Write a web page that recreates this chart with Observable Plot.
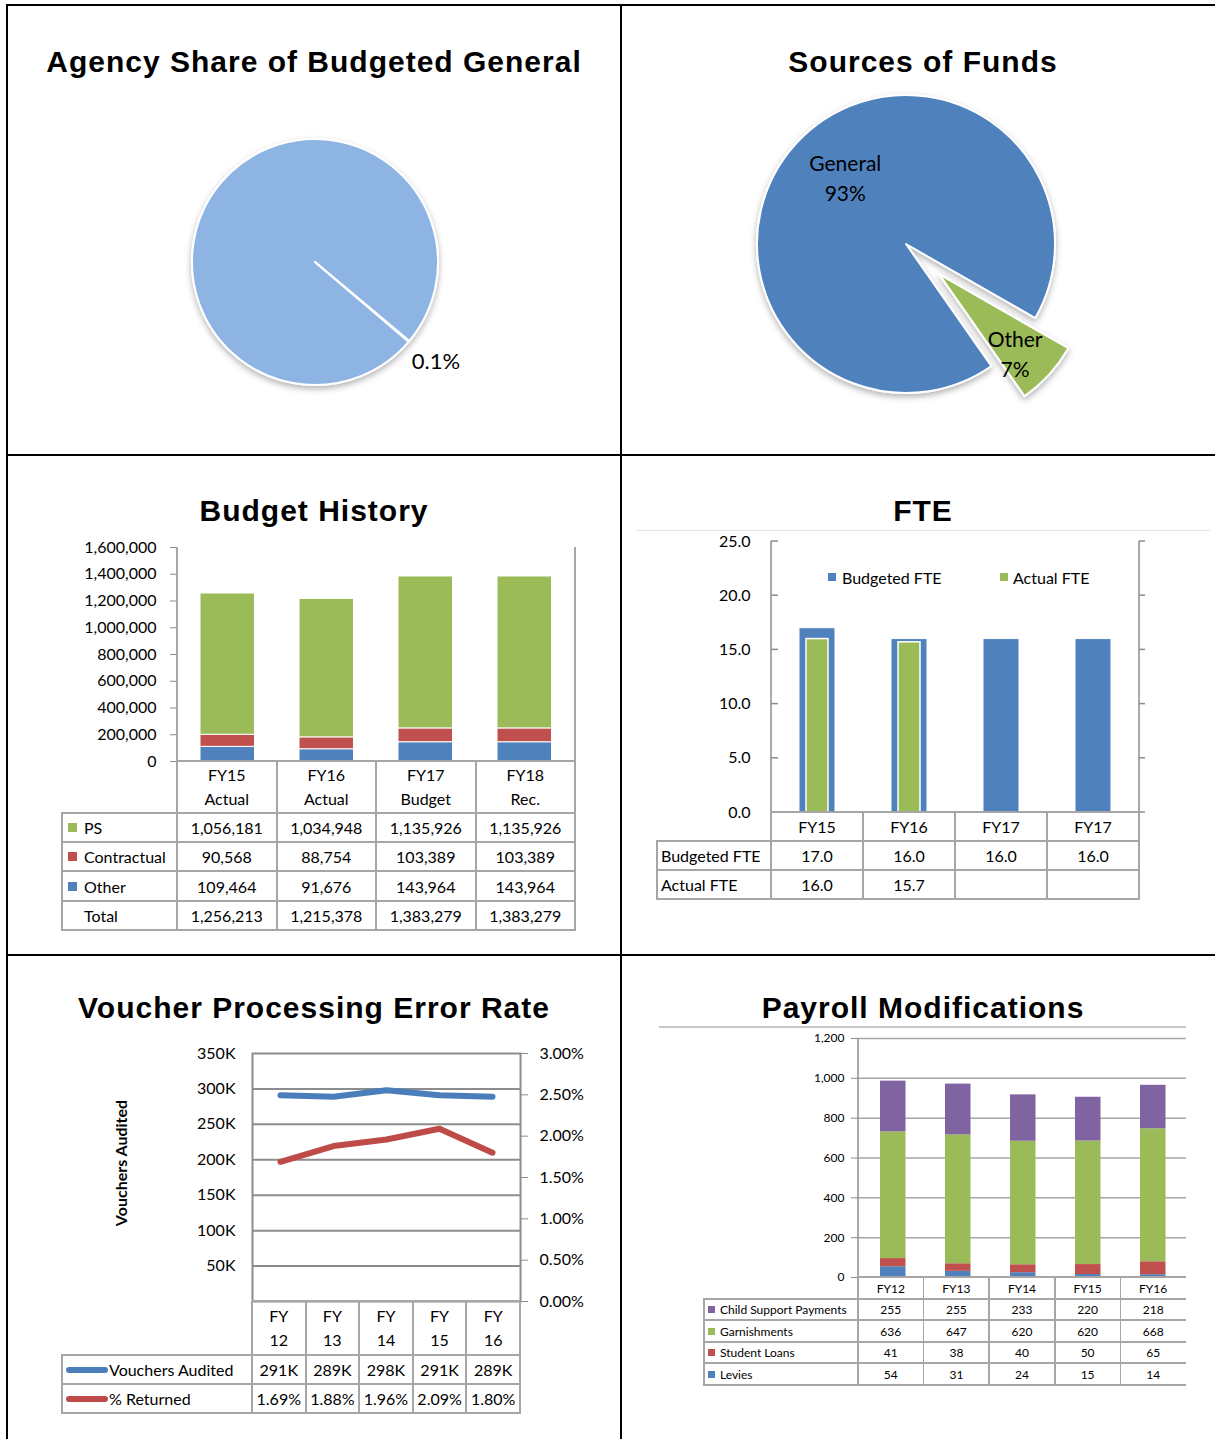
<!DOCTYPE html>
<html><head><meta charset="utf-8">
<script src="https://cdn.jsdelivr.net/npm/d3@7"></script>
<script src="https://cdn.jsdelivr.net/npm/@observablehq/plot@0.6"></script>
<style>
html,body{margin:0;padding:0;background:#fff;}
#root{position:relative;width:1215px;height:1439px;overflow:hidden;font-family:Lato,"Open Sans",sans-serif;color:#000;}
#root > *{position:absolute;}
.title{font-family:"Liberation Sans",Arial,sans-serif;font-weight:bold;font-size:30px;line-height:30px;letter-spacing:1px;white-space:nowrap;transform:translateX(-50%);}
.cell{display:flex;align-items:center;white-space:pre;box-sizing:border-box;}
</style></head><body><div id="root"></div><script>
// ---------------- DATA ----------------
// Agency share pie
const shareLabels = ["Rest of General Fund", "Agency"];
const shareValues = [99.9, 0.1];
// Sources of funds pie
const fundLabels = ["General", "Other"];
const fundValues = [93, 7];
// Budget history
const budgetYears = ["FY15\nActual", "FY16\nActual", "FY17\nBudget", "FY18\nRec."];
const budgetCategories = ["PS", "Contractual", "Other"];
const budgetPS = [1056181, 1034948, 1135926, 1135926];
const budgetContractual = [90568, 88754, 103389, 103389];
const budgetOther = [109464, 91676, 143964, 143964];
const budgetTotal = [1256213, 1215378, 1383279, 1383279];
const budgetTicks = [0, 200000, 400000, 600000, 800000, 1000000, 1200000, 1400000, 1600000];
// FTE
const fteYears = ["FY15", "FY16", "FY17", "FY17"];
const fteBudgeted = [17.0, 16.0, 16.0, 16.0];
const fteActual = [16.0, 15.7, null, null];
const fteTicks = [0, 5, 10, 15, 20, 25];
// Voucher processing
const voucherYears = ["FY\n12", "FY\n13", "FY\n14", "FY\n15", "FY\n16"];
const vouchersAudited = [291000, 289000, 298000, 291000, 289000];
const pctReturned = [1.69, 1.88, 1.96, 2.09, 1.80];
const voucherTicks = [50000, 100000, 150000, 200000, 250000, 300000, 350000];
const pctTicks = [0, 0.5, 1.0, 1.5, 2.0, 2.5, 3.0];
// Payroll modifications
const payrollYears = ["FY12", "FY13", "FY14", "FY15", "FY16"];
const payrollCategories = ["Child Support Payments", "Garnishments", "Student Loans", "Levies"];
const childSupport = [255, 255, 233, 220, 218];
const garnishments = [636, 647, 620, 620, 668];
const studentLoans = [41, 38, 40, 50, 65];
const levies = [54, 31, 24, 15, 14];
const payrollTicks = [0, 200, 400, 600, 800, 1000, 1200];

// ---------------- STYLE ----------------
const BLUE = "#4F81BD", RED = "#C0504D", GREEN = "#9BBB59", PURPLE = "#8064A2", LIGHTBLUE = "#8DB4E2";
const GRID = "#a6a6a6", AXIS = "#8c8c8c";
const FONT = "Lato, 'Open Sans', sans-serif";

// ---------------- HELPERS ----------------
const root = document.getElementById("root");
function add(el, x, y) { el.style.left = x + "px"; el.style.top = y + "px"; root.appendChild(el); return el; }
function rect(x, y, w, h, color) {
  const d = document.createElement("div");
  d.style.width = w + "px"; d.style.height = h + "px"; d.style.background = color;
  return add(d, x, y);
}
function hline(x1, x2, y, color, w) { return rect(x1, y - w / 2, x2 - x1, w, color); }
function vline(x, y1, y2, color, w) { return rect(x - w / 2, y1, w, y2 - y1, color); }
function box(str, x, y, w, h, {align = "center", size = 16, lh = null, bold = false, pad = 0} = {}) {
  const d = document.createElement("div"); d.className = "cell";
  d.style.width = w + "px"; d.style.height = h + "px"; d.style.fontSize = size + "px";
  d.style.justifyContent = align === "left" ? "flex-start" : "center";
  d.style.textAlign = align; if (lh) d.style.lineHeight = lh + "px";
  if (bold) d.style.fontWeight = "bold";
  d.style.paddingLeft = pad + "px";
  d.textContent = str; return add(d, x, y);
}
function title(str, cx, top) { const d = document.createElement("div"); d.className = "title"; d.textContent = str; return add(d, cx, top); }

function dataTable(t) {
  const {labelLeft, xs, headerTop, ys, header, rows, size = 16, lh = null, labelPad = 4, swatch = null, rightBorder = true, color = GRID, w = 2} = t;
  const right = xs[xs.length - 1], bottom = ys[ys.length - 1];
  hline(xs[0], right, headerTop, color, w);
  ys.forEach(y => hline(labelLeft - w / 2, right + (rightBorder ? w / 2 : 0), y, color, w));
  vline(labelLeft, ys[0], bottom + w / 2, color, w);
  xs.forEach((x, j) => { if (j === xs.length - 1 && !rightBorder) return; vline(x, headerTop, bottom + w / 2, color, w); });
  header.forEach((h, j) => box(h, xs[j], headerTop, xs[j + 1] - xs[j], ys[0] - headerTop, {size, lh}));
  rows.forEach((r, i) => {
    const top = ys[i], h = ys[i + 1] - top;
    if (swatch && r.color) {
      if (swatch.type === "square") rect(labelLeft + swatch.dx, top + h / 2 - swatch.s / 2, swatch.s, swatch.s, r.color);
      else { const e = rect(labelLeft + swatch.dx, top + h / 2 - swatch.h / 2, swatch.w, swatch.h, r.color); e.style.borderRadius = (swatch.h / 2) + "px"; }
    }
    box(r.label, labelLeft, top, xs[0] - labelLeft, h, {align: "left", size, pad: labelPad});
    r.values.forEach((v, j) => box(v, xs[j], top, xs[j + 1] - xs[j], h, {size}));
  });
}

// position a plot so that its frame lands on `area` (page pixels) inside svg box
function placePlot(area, svg, options) {
  const el = Plot.plot({
    width: svg.x1 - svg.x0, height: svg.y1 - svg.y0,
    marginLeft: area.l - svg.x0, marginRight: svg.x1 - area.r,
    marginTop: area.t - svg.y0, marginBottom: svg.y1 - area.b,
    style: {fontFamily: FONT, fontSize: "16px", color: "#000", background: "transparent", overflow: "visible"},
    ...options
  });
  return add(el, svg.x0, svg.y0);
}
function colEdges(area, n) { return d3.range(n + 1).map(i => area.l + i * (area.r - area.l) / n); }

// mark drawing selected frame sides
function sides(which, color = GRID, w = 2) {
  return (index, scales, values, dim) => {
    const L = dim.marginLeft, R = dim.width - dim.marginRight, T = dim.marginTop, B = dim.height - dim.marginBottom;
    const seg = {left: [L, T, L, B], right: [R, T, R, B], top: [L, T, R, T], bottom: [L, B, R, B]};
    const g = d3.create("svg:g").attr("stroke", color).attr("stroke-width", w);
    for (const s of which) { const [x1, y1, x2, y2] = seg[s]; g.append("line").attr("x1", x1).attr("y1", y1).attr("x2", x2).attr("y2", y2); }
    return g.node();
  };
}
// small y tick marks from a side, len positive -> to the right
function yTickMarks(values, side, len, color = GRID, w = 1.5) {
  return (index, scales, vals, dim) => {
    const x0 = side === "left" ? dim.marginLeft : dim.width - dim.marginRight;
    const g = d3.create("svg:g").attr("stroke", color).attr("stroke-width", w);
    for (const v of values) { const y = scales.y(v); g.append("line").attr("x1", x0).attr("x2", x0 + len).attr("y1", y).attr("y2", y); }
    return g.node();
  };
}
let shadowId = 0;
const rad = d => d * Math.PI / 180;
function pieMark(values, colors, startDeg, explode) {
  return (index, scales) => {
    const cx = scales.x(0), cy = scales.y(0), r = scales.x(1) - scales.x(0);
    const arcs = d3.pie().sort(null).startAngle(rad(startDeg)).endAngle(rad(startDeg + 360))(values);
    const arc = d3.arc().innerRadius(0).outerRadius(r);
    const g = d3.create("svg:g");
    const id = "pieshadow" + (shadowId++);
    g.append("defs").append("filter").attr("id", id).attr("x", "-30%").attr("y", "-30%").attr("width", "160%").attr("height", "160%")
      .append("feDropShadow").attr("dx", 0).attr("dy", 3).attr("stdDeviation", 3).attr("flood-color", "#000").attr("flood-opacity", 0.3);
    const gg = g.append("g").attr("filter", `url(#${id})`);
    arcs.forEach((a, i) => {
      const mid = (a.startAngle + a.endAngle) / 2, off = (explode[i] || 0) * r;
      gg.append("path").attr("d", arc(a))
        .attr("transform", `translate(${cx + off * Math.sin(mid)},${cy - off * Math.cos(mid)})`)
        .attr("fill", colors[i]).attr("stroke", "#fff").attr("stroke-width", 2).attr("stroke-linejoin", "round");
    });
    return g.node();
  };
}

// ---------------- PANEL BORDERS ----------------
hline(6, 1215, 5, "#000", 2);
vline(7, 4, 1439, "#000", 2);
vline(621, 4, 1439, "#000", 2);
hline(6, 1215, 455, "#000", 2);
hline(6, 1215, 955, "#000", 2);

// ---------------- TITLES ----------------
title("Agency Share of Budgeted General", 314, 47);
title("Sources of Funds", 923, 47);
title("Budget History", 314, 496);
title("FTE", 923, 496);
title("Voucher Processing Error Rate", 314, 993);
title("Payroll Modifications", 923, 993);

// ---------------- PIE 1 ----------------
{
  const start = 130.36;
  const arcs = d3.pie().sort(null).startAngle(rad(start)).endAngle(rad(start + 360))(shareValues);
  const a = arcs[1], m = (a.startAngle + a.endAngle) / 2;
  const labels = [{x: 1.25 * Math.sin(m), y: 1.25 * Math.cos(m), label: (shareValues[1]).toFixed(1) + "%"}];
  placePlot({l: 192, r: 438, t: 139, b: 385}, {x0: 8, y0: 90, x1: 620, y1: 440}, {
    x: {domain: [-1, 1], axis: null}, y: {domain: [-1, 1], axis: null},
    marks: [pieMark(shareValues, [LIGHTBLUE, LIGHTBLUE], start, []),
      Plot.text(labels, {x: "x", y: "y", text: "label", fontSize: 22, dx: 3})]
  });
}
// ---------------- PIE 2 ----------------
{
  const start = 145;
  const explode = [0, 0.3];
  const arcs = d3.pie().sort(null).startAngle(rad(start)).endAngle(rad(start + 360))(fundValues);
  const labels = arcs.map((a, i) => {
    const m = (a.startAngle + a.endAngle) / 2, rr = i === 0 ? 0.62 : explode[i] + 0.75;
    return {x: rr * Math.sin(m), y: rr * Math.cos(m), label: `${fundLabels[i]}\n${fundValues[i]}%`};
  });
  placePlot({l: 757, r: 1055, t: 95, b: 393}, {x0: 623, y0: 90, x1: 1215, y1: 440}, {
    x: {domain: [-1, 1], axis: null}, y: {domain: [-1, 1], axis: null},
    marks: [pieMark(fundValues, [BLUE, GREEN], start, explode),
      Plot.text(labels.slice(0, 1), {x: "x", y: "y", text: "label", fontSize: 21, lineHeight: 1.45, dx: 7, dy: -6}),
      Plot.text(labels.slice(1), {x: "x", y: "y", text: "label", fontSize: 21, lineHeight: 1.45, dx: -7, dy: 2})]
  });
}

// ---------------- BUDGET HISTORY ----------------
{
  const area = {l: 177, r: 575, t: 547, b: 761};
  const series = [["Other", budgetOther], ["Contractual", budgetContractual], ["PS", budgetPS]];
  const rows = series.flatMap(([cat, vals]) => vals.map((v, i) => ({year: budgetYears[i], cat, value: v})));
  placePlot(area, {x0: 40, y0: 535, x1: 585, y1: 770}, {
    x: {type: "band", domain: budgetYears, padding: 0, axis: null},
    y: {domain: [0, 1600000]},
    color: {domain: budgetCategories, range: [GREEN, RED, BLUE]},
    marks: [
      Plot.barY(rows, {x: "year", y: "value", fill: "cat", order: ["Other", "Contractual", "PS"], insetLeft: 22, insetRight: 22.5, stroke: "#fff", strokeWidth: 1}),
      Plot.axisY(budgetTicks, {tickFormat: d3.format(","), tickSize: 7, tickPadding: 14, stroke: AXIS, label: null}),
      sides(["left", "right"], GRID, 2)
    ]
  });
  const fmt = d3.format(",");
  dataTable({
    labelLeft: 62, xs: colEdges(area, 4), headerTop: 761, ys: [813, 842, 871, 901, 930],
    header: budgetYears, lh: 24, labelPad: 22, swatch: {type: "square", dx: 6, s: 9},
    rows: [
      {label: "PS", color: GREEN, values: budgetPS.map(fmt)},
      {label: "Contractual", color: RED, values: budgetContractual.map(fmt)},
      {label: "Other", color: BLUE, values: budgetOther.map(fmt)},
      {label: "Total", values: budgetTotal.map(fmt)}
    ]
  });
}

// ---------------- FTE ----------------
{
  hline(636, 1210, 530, "#e3e3e3", 1);
  const area = {l: 771, r: 1139, t: 541, b: 812};
  const idx = d3.range(fteYears.length);
  placePlot(area, {x0: 630, y0: 530, x1: 1160, y1: 820}, {
    x: {type: "band", domain: idx, padding: 0, axis: null},
    y: {domain: [0, 25]},
    marks: [
      Plot.barY(idx, {x: i => i, y: i => fteBudgeted[i], fill: BLUE, insetLeft: 28, insetRight: 28, stroke: "#fff", strokeWidth: 1}),
      Plot.barY(idx.filter(i => fteActual[i] != null), {x: i => i, y: i => fteActual[i], fill: GREEN, insetLeft: 35, insetRight: 35, stroke: "#fff", strokeWidth: 1.5}),
      Plot.axisY(fteTicks, {tickFormat: d => d.toFixed(1), tickSize: 0, tickPadding: 21, label: null}),
      yTickMarks(fteTicks, "left", 7, AXIS),
      yTickMarks(fteTicks, "right", 6, AXIS),
      sides(["left", "right"], AXIS, 1.5)
    ]
  });
  // legend
  rect(828, 573, 8, 8, BLUE); box("Budgeted FTE", 842, 565, 130, 24, {align: "left"});
  rect(1000, 573, 8, 8, GREEN); box("Actual FTE", 1013, 565, 110, 24, {align: "left"});
  dataTable({
    labelLeft: 657, xs: colEdges(area, 4), headerTop: 812, ys: [841, 870, 899],
    header: fteYears, labelPad: 4, color: GRID,
    rows: [
      {label: "Budgeted FTE", values: fteBudgeted.map(v => v.toFixed(1))},
      {label: "Actual FTE", values: fteActual.map(v => v == null ? "" : v.toFixed(1))}
    ]
  });
}

// ---------------- VOUCHERS ----------------
{
  const area = {l: 252, r: 520, t: 1053, b: 1301};
  const K = 350000 / 3; // % -> left-axis units
  const audited = voucherYears.map((y, i) => ({year: y, v: vouchersAudited[i]}));
  const returned = voucherYears.map((y, i) => ({year: y, v: pctReturned[i] * K}));
  placePlot(area, {x0: 150, y0: 1040, x1: 610, y1: 1310}, {
    x: {type: "point", domain: voucherYears, padding: 0.5, axis: null},
    y: {domain: [0, 350000]},
    marks: [
      Plot.gridY(voucherTicks.slice(0, -1), {stroke: AXIS, strokeOpacity: 1, strokeWidth: 2}),
      Plot.frame({stroke: AXIS, strokeWidth: 2}),
      Plot.axisY(voucherTicks, {anchor: "left", tickFormat: d => (d / 1000) + "K", tickSize: 0, tickPadding: 17, label: null}),
      Plot.axisY(pctTicks.map(p => p * K), {anchor: "right", tickFormat: d => (d / K).toFixed(2) + "%", tickSize: 7, tickPadding: 12, stroke: AXIS, label: null}),
      Plot.line(audited, {x: "year", y: "v", stroke: "#4A7EBB", strokeWidth: 6, strokeLinecap: "round"}),
      Plot.line(returned, {x: "year", y: "v", stroke: "#BE4B48", strokeWidth: 6, strokeLinecap: "round"})
    ]
  });
  const t = box("Vouchers Audited", 20, 1151, 200, 24, {bold: true});
  t.style.transform = "rotate(-90deg)";
  dataTable({
    labelLeft: 62, xs: colEdges(area, 5), headerTop: 1301, ys: [1355, 1384, 1413],
    header: voucherYears, lh: 24, labelPad: 47, swatch: {type: "line", dx: 4, w: 42, h: 6},
    rows: [
      {label: "Vouchers Audited", color: "#4A7EBB", values: vouchersAudited.map(v => Math.round(v / 1000) + "K")},
      {label: "% Returned", color: "#BE4B48", values: pctReturned.map(p => p.toFixed(2) + "%")}
    ]
  });
}

// ---------------- PAYROLL ----------------
{
  hline(659, 1186, 1027, "#c8c8c8", 1.5);
  const area = {l: 858, r: 1186, t: 1038, b: 1277};
  const series = [["Levies", levies], ["Student Loans", studentLoans], ["Garnishments", garnishments], ["Child Support Payments", childSupport]];
  const rows = series.flatMap(([cat, vals]) => vals.map((v, i) => ({year: payrollYears[i], cat, value: v})));
  placePlot(area, {x0: 700, y0: 1030, x1: 1200, y1: 1285}, {
    style: {fontFamily: FONT, fontSize: "12px", color: "#000", background: "transparent", overflow: "visible"},
    x: {type: "band", domain: payrollYears, padding: 0, axis: null},
    y: {domain: [0, 1200]},
    color: {domain: payrollCategories, range: [PURPLE, GREEN, RED, BLUE]},
    marks: [
      Plot.gridY(payrollTicks.slice(1), {stroke: GRID, strokeOpacity: 1, strokeWidth: 1.5}),
      Plot.barY(rows, {x: "year", y: "value", fill: "cat", order: ["Levies", "Student Loans", "Garnishments", "Child Support Payments"], insetLeft: 20, insetRight: 19.5}),
      Plot.axisY(payrollTicks, {tickFormat: d3.format(","), tickSize: 7, tickPadding: 7, stroke: AXIS, label: null}),
      sides(["left"], AXIS, 1.5)
    ]
  });
  dataTable({
    labelLeft: 704, xs: colEdges(area, 5), headerTop: 1277, ys: [1299, 1320, 1342, 1363, 1385],
    header: payrollYears, size: 12, labelPad: 16, swatch: {type: "square", dx: 4, s: 7}, rightBorder: false, w: 1.5,
    rows: [
      {label: "Child Support Payments", color: PURPLE, values: childSupport.map(String)},
      {label: "Garnishments", color: GREEN, values: garnishments.map(String)},
      {label: "Student Loans", color: RED, values: studentLoans.map(String)},
      {label: "Levies", color: BLUE, values: levies.map(String)}
    ]
  });
}
</script></body></html>
